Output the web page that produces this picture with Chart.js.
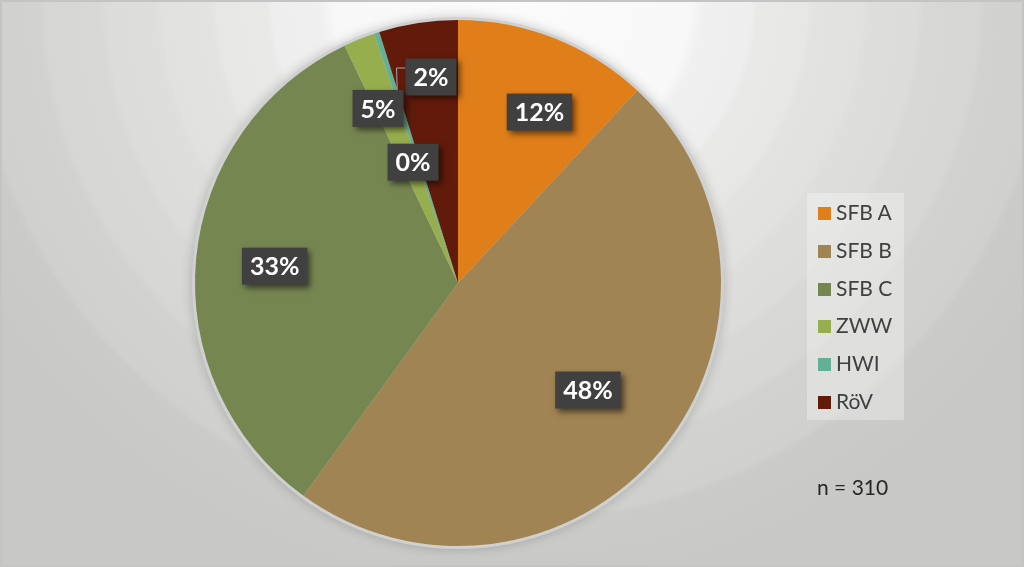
<!DOCTYPE html>
<html>
<head>
<meta charset="utf-8">
<script src="https://cdn.jsdelivr.net/npm/chart.js@4"></script>
<style>
  html, body { margin: 0; padding: 0; }
  body {
    width: 1024px; height: 567px; overflow: hidden; position: relative;
    background: radial-gradient(ellipse 60% 105% at 50% 0%,
      #fbfbfb 0%, #f8f8f8 29%, #f0f0f0 31%, #eeeeee 39%, #e9e9e8 40%, #e7e7e6 48%,
      #e3e3e2 49%, #e1e1e0 57%, #dededc 58%, #dcdcda 66%, #d8d8d6 67%, #d6d6d4 76%,
      #d2d2d0 77%, #d0d0ce 87%, #cbcbca 88%, #c8c8c7 100%);
    box-shadow: inset 0 0 0 2px #c4c4c4;
    font-family: Lato, "Open Sans", sans-serif;
  }
  #chart { position: absolute; left: 0; top: 0; }
  #legend {
    position: absolute; left: 807px; top: 193px; width: 97px; height: 227px;
    background: rgba(255,255,255,0.3);
  }
  .item { position: absolute; left: 11px; height: 24px; line-height: 24px;
    font-size: 21px; color: #404040; white-space: nowrap; }
  .item span.box { display: inline-block; width: 13px; height: 13px; margin-right: 5px;
    vertical-align: 0px; }
  #note { position: absolute; left: 817px; top: 474px; font-size: 21px; color: #262626; }
</style>
</head>
<body>
<canvas id="chart" width="1024" height="567"></canvas>
<div id="legend"></div>
<div id="note">n = 310</div>
<script>
// Chart data (n = 310)
const categories = ['SFB A', 'SFB B', 'SFB C', 'ZWW', 'HWI', 'RöV'];
const counts = [37, 149, 102, 6, 1, 15];
const percentLabels = ['12%', '48%', '33%', '2%', '0%', '5%'];
const colors = ['#E07E1A', '#A08453', '#768651', '#97AE4E', '#62B095', '#621B0B'];

// where the labels sit: angle shift (deg) from slice middle and fraction of radius
const labelPlace = [
  { shift: 4, frac: 0.72 },
  { shift: 0, frac: 0.64 },
  { shift: 0, frac: 0.70 },
  { shift: 14.6, frac: 0.79, leader: true },
  { shift: -2.4, frac: 0.49 },
  { shift: -15.9, frac: 0.73 }
];

// legend
const legend = document.getElementById('legend');
categories.forEach((c, i) => {
  const div = document.createElement('div');
  div.className = 'item';
  div.style.top = (7 + i * 37.8) + 'px';
  div.innerHTML = `<span class="box" style="background:${colors[i]}"></span>${c}`;
  legend.appendChild(div);
});

const pieShadow = {
  id: 'pieShadow',
  beforeDatasetsDraw(chart) {
    const arc = chart.getDatasetMeta(0).data[0];
    const { x, y, outerRadius } = arc.getProps(['x', 'y', 'outerRadius'], true);
    const ctx = chart.ctx;
    ctx.save();
    ctx.shadowColor = 'rgba(0,0,0,0.2)';
    ctx.shadowBlur = 12;
    ctx.fillStyle = '#d0d0d0';
    ctx.beginPath();
    ctx.arc(x, y, outerRadius + 3, 0, Math.PI * 2);
    ctx.fill();
    ctx.restore();
  }
};

const boxLabels = {
  id: 'boxLabels',
  afterDatasetsDraw(chart) {
    const ctx = chart.ctx;
    const meta = chart.getDatasetMeta(0);
    ctx.save();
    ctx.font = 'bold 25px Lato, sans-serif';
    ctx.textAlign = 'center';
    ctx.textBaseline = 'middle';
    meta.data.forEach((arc, i) => {
      const p = arc.getProps(['x', 'y', 'startAngle', 'endAngle', 'outerRadius'], true);
      const a = (p.startAngle + p.endAngle) / 2 + labelPlace[i].shift * Math.PI / 180;
      const r = p.outerRadius * labelPlace[i].frac;
      const cx = p.x + Math.cos(a) * r;
      const cy = p.y + Math.sin(a) * r;
      const w = ctx.measureText(percentLabels[i]).width + 16;
      const h = 37;
      if (labelPlace[i].leader) {
        const ea = p.endAngle;
        const er = p.outerRadius * 0.72;
        ctx.strokeStyle = '#a6a6a6';
        ctx.lineWidth = 1;
        ctx.beginPath();
        ctx.moveTo(cx - w / 2, cy - 9);
        ctx.lineTo(cx - w / 2 - 9, cy - 9);
        ctx.lineTo(p.x + Math.cos(ea) * er, p.y + Math.sin(ea) * er);
        ctx.stroke();
      }
      ctx.save();
      ctx.shadowColor = 'rgba(0,0,0,0.55)';
      ctx.shadowBlur = 6;
      ctx.shadowOffsetX = 3;
      ctx.shadowOffsetY = 3;
      ctx.fillStyle = '#404040';
      ctx.fillRect(cx - w / 2, cy - h / 2, w, h);
      ctx.restore();
      ctx.fillStyle = '#ffffff';
      ctx.fillText(percentLabels[i], cx, cy + 1);
    });
    ctx.restore();
  }
};

new Chart(document.getElementById('chart'), {
  type: 'pie',
  data: {
    labels: categories,
    datasets: [{
      data: counts,
      backgroundColor: colors,
      borderWidth: 0
    }]
  },
  options: {
    responsive: false,
    animation: false,
    devicePixelRatio: 1,
    layout: { padding: { left: 195, right: 303, top: 20, bottom: 21 } },
    plugins: {
      legend: { display: false },
      tooltip: { enabled: false }
    }
  },
  plugins: [pieShadow, boxLabels]
});
</script>
</body>
</html>
